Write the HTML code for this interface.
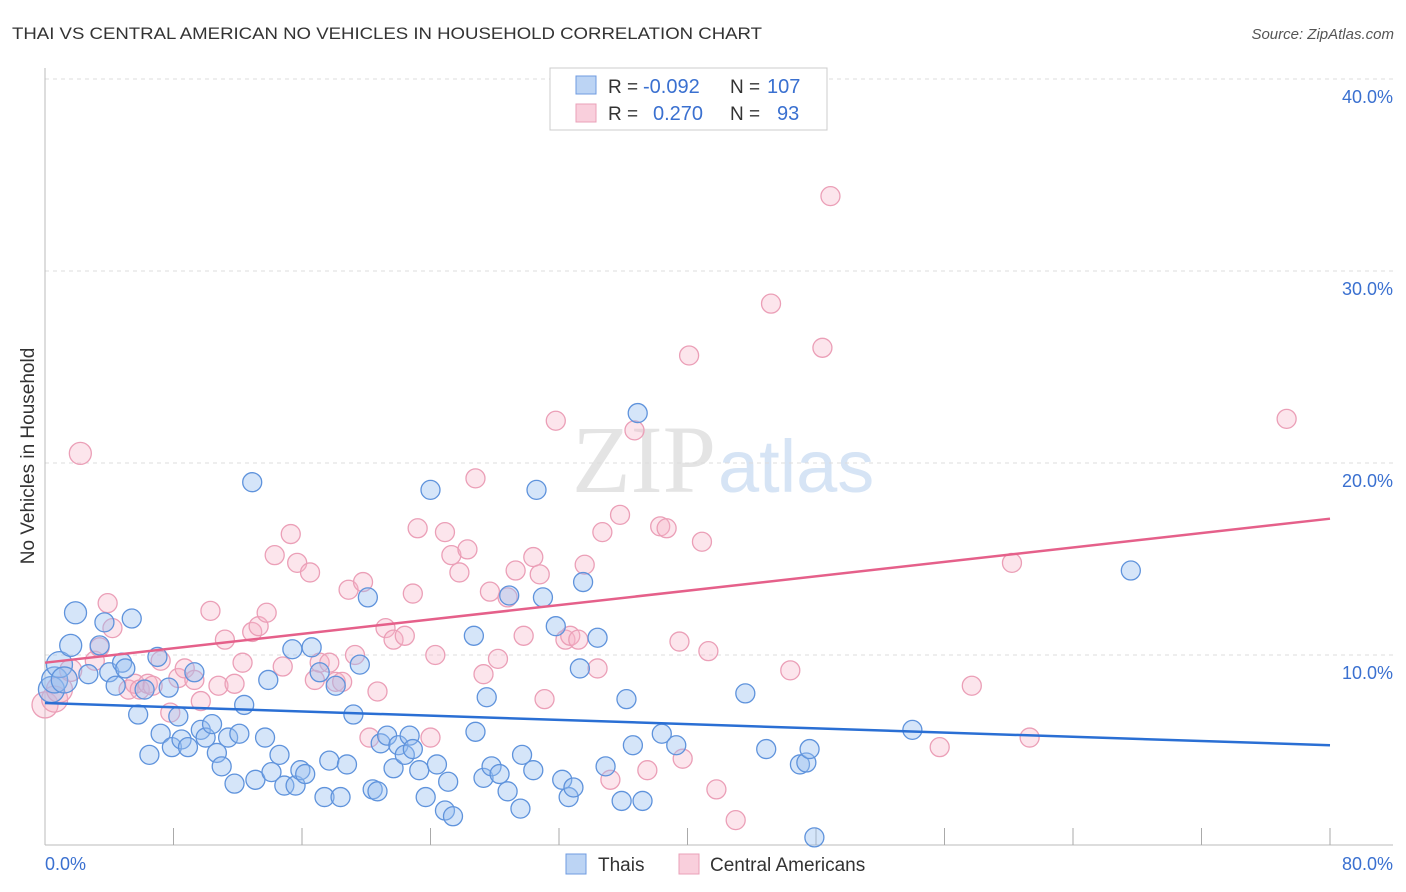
<!DOCTYPE html>
<html><head><meta charset="utf-8"><style>
body{margin:0;background:#fff;font-family:"Liberation Sans",sans-serif;}
svg{display:block}
</style></head><body>
<svg id="c" width="1406" height="892" xmlns="http://www.w3.org/2000/svg">
<text x="12" y="39" font-size="17" fill="#333" textLength="750" lengthAdjust="spacingAndGlyphs">THAI VS CENTRAL AMERICAN NO VEHICLES IN HOUSEHOLD CORRELATION CHART</text>
<text x="1394" y="39" font-size="15" fill="#555" font-style="italic" text-anchor="end">Source: ZipAtlas.com</text>
<text x="716" y="492" font-size="96" fill="#e4e4e4" text-anchor="end" font-family="Liberation Serif">ZIP</text>
<text x="718" y="492" font-size="74" fill="#d6e4f5">atlas</text>
<text transform="translate(34,456) rotate(-90)" font-size="19" fill="#333" text-anchor="middle">No Vehicles in Household</text>
<g id="grid"></g><g id="axes"></g><g id="pink"></g><g id="blue"></g><g id="lines"></g>
<g>
<rect x="550" y="68" width="277" height="62" fill="#fff" stroke="#ccc"/>
<rect x="576" y="76" width="20" height="18" fill="#bcd4f4" stroke="#6f9be0"/>
<rect x="576" y="104" width="20" height="18" fill="#f9cfdc" stroke="#eaa0b8"/>
<text x="608" y="93" font-size="19" fill="#333">R =</text>
<text x="643" y="93" font-size="20" fill="#3a70d0">-0.092</text>
<text x="730" y="93" font-size="19" fill="#333">N =</text>
<text x="767" y="93" font-size="20" fill="#3a70d0">107</text>
<text x="608" y="120" font-size="19" fill="#333">R =</text>
<text x="653" y="120" font-size="20" fill="#3a70d0">0.270</text>
<text x="730" y="120" font-size="19" fill="#333">N =</text>
<text x="777" y="120" font-size="20" fill="#3a70d0">93</text>
</g>
<g>
<rect x="566" y="854" width="20" height="20" fill="#bcd4f4" stroke="#6f9be0"/>
<text x="598" y="871" font-size="19" fill="#333">Thais</text>
<rect x="679" y="854" width="20" height="20" fill="#f9cfdc" stroke="#eaa0b8"/>
<text x="710" y="871" font-size="19" fill="#333">Central Americans</text>
</g>
</svg>
<script>
const yTicks=[10,20,30,40];
const xTickCount=10;
const blueX=[0.4,0.6,0.9,1.2,1.6,1.9,2.7,3.4,3.7,4.0,4.4,4.8,5.0,5.4,5.8,6.2,6.5,7.0,7.2,7.7,7.9,8.3,8.5,8.9,9.3,9.7,10.0,10.4,10.7,11.0,11.4,11.8,12.1,12.4,12.9,13.1,13.7,13.9,14.1,14.6,14.9,15.4,15.6,15.9,16.2,16.6,17.1,17.4,17.7,18.1,18.4,18.8,19.2,19.6,20.1,20.4,20.7,20.9,21.3,21.7,22.0,22.4,22.7,22.9,23.3,23.7,24.0,24.4,24.9,25.1,25.4,26.7,26.8,27.3,27.5,27.8,28.3,28.8,28.9,29.7,29.6,30.4,30.6,31.0,31.8,32.2,32.6,32.9,33.3,33.5,34.4,34.9,35.9,36.2,36.6,36.9,37.2,38.4,39.3,43.6,44.9,47.0,47.4,47.6,47.9,54.0,67.6];
const blueY=[8.2,8.7,9.5,8.7,10.5,12.2,9.0,10.5,11.7,9.1,8.4,9.6,9.3,11.9,6.9,8.2,4.8,9.9,5.9,8.3,5.2,6.8,5.6,5.2,9.1,6.1,5.7,6.4,4.9,4.2,5.7,3.3,5.9,7.4,19.0,3.5,5.7,8.7,3.9,4.8,3.2,10.3,3.2,4.0,3.8,10.4,9.1,2.6,4.5,8.4,2.6,4.3,6.9,9.5,13.0,3.0,2.9,5.4,5.8,4.1,5.3,4.8,5.8,5.1,4.0,2.6,18.6,4.3,1.9,3.4,1.6,11.0,6.0,3.6,7.8,4.2,3.8,2.9,13.1,4.8,2.0,4.0,18.6,13.0,11.5,3.5,2.6,3.1,9.3,13.8,10.9,4.2,2.4,7.7,5.3,22.6,2.4,5.9,5.3,8.0,5.1,4.3,4.4,5.1,0.5,6.1,14.4];
const pinkX=[0,0.6,0.9,1.6,2.2,3.1,3.4,3.9,4.2,5.2,5.6,5.9,6.4,6.7,7.2,7.8,8.3,8.7,9.3,9.7,10.3,10.8,11.2,11.8,12.3,12.9,13.3,13.8,14.3,14.8,15.3,15.7,16.5,16.8,17.1,17.7,18.1,18.5,18.9,19.3,19.8,20.2,20.7,21.2,21.7,22.4,22.9,23.2,24.0,24.3,24.9,25.3,25.8,26.3,26.8,27.3,27.7,28.2,28.8,29.3,29.8,30.4,30.8,31.1,31.8,32.4,32.7,33.2,33.6,34.4,34.7,35.2,35.8,36.7,37.5,38.3,38.7,39.5,39.7,40.1,40.9,41.3,41.8,43.0,45.2,46.4,48.4,48.9,55.7,57.7,60.2,61.3,77.3];
const pinkY=[7.4,7.7,8.2,9.2,20.5,9.7,10.4,12.7,11.4,8.2,8.5,8.2,8.5,8.4,9.7,7.0,8.8,9.3,8.7,7.6,12.3,8.4,10.8,8.5,9.6,11.2,11.5,12.2,15.2,9.4,16.3,14.8,14.3,8.7,9.6,9.6,8.6,8.6,13.4,10.0,13.8,5.7,8.1,11.4,10.8,11.0,13.2,16.6,5.7,10.0,16.4,15.2,14.3,15.5,19.2,9.0,13.3,9.8,13.0,14.4,11.0,15.1,14.2,7.7,22.2,10.8,11.0,10.8,14.7,9.3,16.4,3.5,17.3,21.7,4.0,16.7,16.6,10.7,4.6,25.6,15.9,10.2,3.0,1.4,28.3,9.2,26.0,33.9,5.2,8.4,14.8,5.7,22.3];
const blueTrend=[7.5,5.3];
const pinkTrend=[9.6,17.1];
const X0=45,X1=1330,Y0=847,PY=19.2;
const sx=v=>X0+(v/80)*(X1-X0);
const sy=v=>Y0-v*PY;
const NS="http://www.w3.org/2000/svg";
function mk(tag,attrs,parent){const e=document.createElementNS(NS,tag);for(const k in attrs)e.setAttribute(k,attrs[k]);parent.appendChild(e);return e;}
const grid=document.getElementById('grid'),axes=document.getElementById('axes');
yTicks.forEach(t=>{
 const l=mk('line',{x1:X0,x2:1393,y1:sy(t),y2:sy(t),stroke:'#ddd','stroke-dasharray':'4,4'},grid);
 
 
 const tx=mk('text',{x:1393,y:sy(t)+24,'font-size':18,fill:'#3a70d0','text-anchor':'end'},axes);
 tx.textContent=t.toFixed(1)+'%';
 
 
});
let a=mk('line',{x1:X0,x2:X0,y1:68,y2:845,stroke:'#bbb'},axes);


a=mk('line',{x1:X0,x2:1393,y1:845,y2:845,stroke:'#bbb'},axes);


for(let i=1;i<=xTickCount;i++){
 const x=X0+i*(X1-X0)/xTickCount;
 const t=mk('line',{x1:x,x2:x,y1:828,y2:845,stroke:'#aaa'},axes);
 
 
}
let t0=mk('text',{x:45,y:870,'font-size':18,fill:'#3a70d0'},axes);t0.textContent='0.0%';


let t1=mk('text',{x:1393,y:870,'font-size':18,fill:'#3a70d0','text-anchor':'end'},axes);t1.textContent='80.0%';


function dots(xs,ys,g,fill,stroke,name){
 xs.forEach((v,i)=>{
  const r=v<1.5?13:(v<2.5?11:9.5);
  const c=mk('circle',{cx:sx(v),cy:sy(ys[i]),r:r,fill:fill,stroke:stroke,'stroke-width':1.3},g);
  
  
 });
}
dots(pinkX,pinkY,document.getElementById('pink'),'rgba(245,180,200,0.35)','#eb9fb7','central-american-point');
dots(blueX,blueY,document.getElementById('blue'),'rgba(150,190,240,0.4)','#5f93dc','thai-point');
const lg=document.getElementById('lines');
let bl=mk('line',{x1:sx(0),x2:sx(80),y1:sy(blueTrend[0]),y2:sy(blueTrend[1]),stroke:'#2a6fd4','stroke-width':2.5},lg);


let pl=mk('line',{x1:sx(0),x2:sx(80),y1:sy(pinkTrend[0]),y2:sy(pinkTrend[1]),stroke:'#e5608a','stroke-width':2.5},lg);


</script>
</body></html>
